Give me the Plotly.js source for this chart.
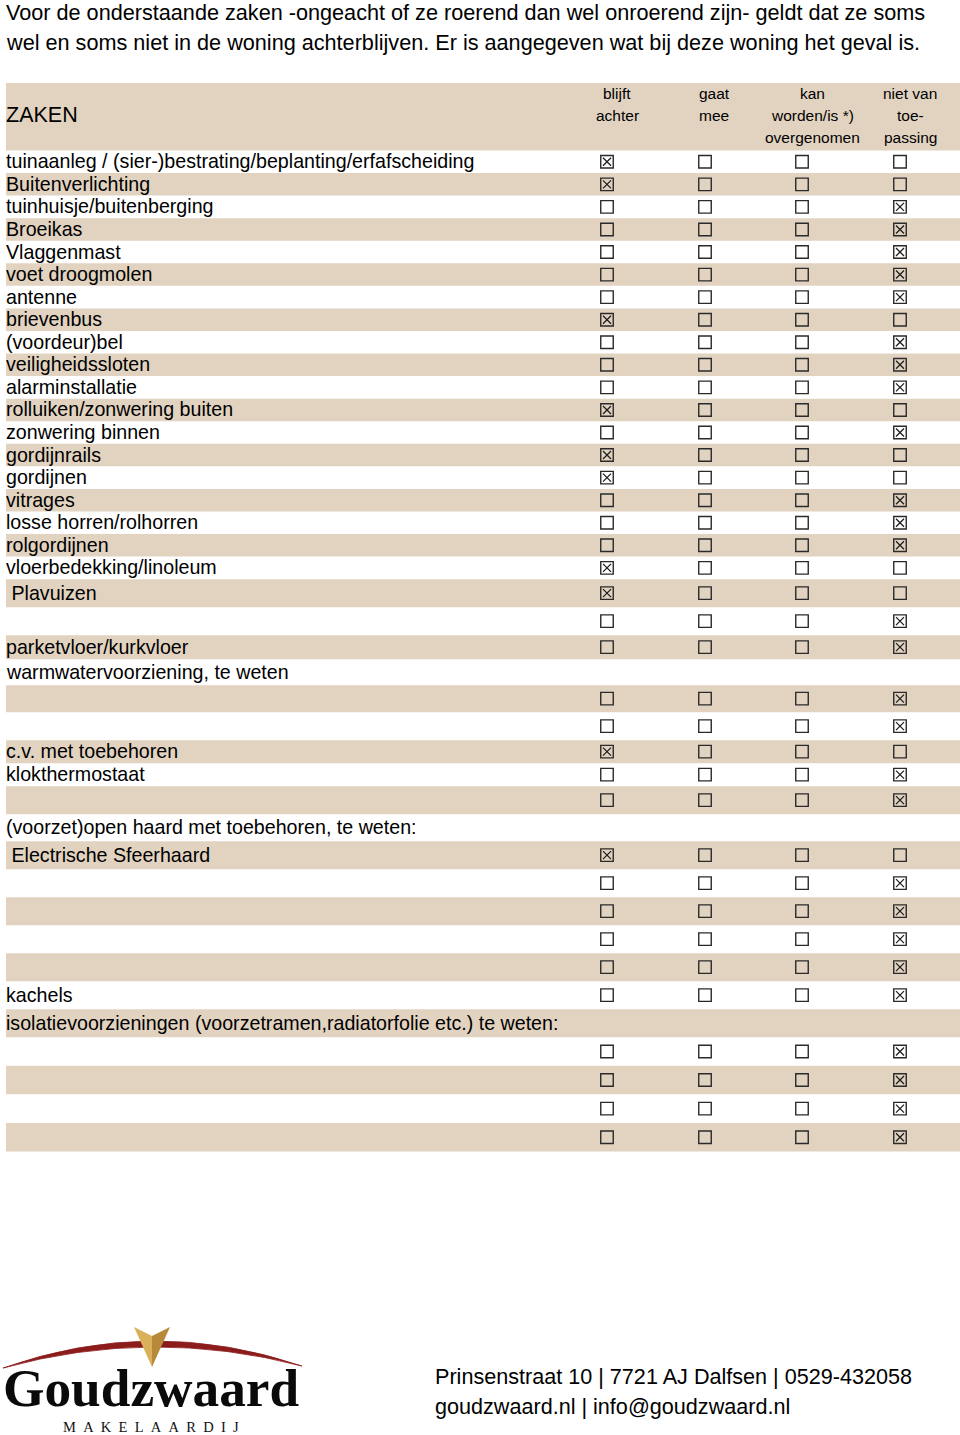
<!DOCTYPE html>
<html><head><meta charset="utf-8">
<script src="https://cdn.plot.ly/plotly-3.0.1.min.js"></script>
<style>html,body{margin:0;padding:0;background:#fff}#chart{width:960px;height:1435px}</style>
</head><body><div id="chart"></div>
<script>
// ---------- DATA ----------
const introLines = [
  "Voor de onderstaande zaken -ongeacht of ze roerend dan wel onroerend zijn- geldt dat ze soms",
  "wel en soms niet in de woning achterblijven. Er is aangegeven wat bij deze woning het geval is."
];
const tableTitle = "ZAKEN";
const columnHeaders = [
  ["blijft", "achter"],
  ["gaat", "mee"],
  ["kan", "worden/is *)", "overgenomen"],
  ["niet van", "toe-", "passing"]
];
const itemLabels = [
  "tuinaanleg / (sier-)bestrating/beplanting/erfafscheiding",
  "Buitenverlichting",
  "tuinhuisje/buitenberging",
  "Broeikas",
  "Vlaggenmast",
  "voet droogmolen",
  "antenne",
  "brievenbus",
  "(voordeur)bel",
  "veiligheidssloten",
  "alarminstallatie",
  "rolluiken/zonwering buiten",
  "zonwering binnen",
  "gordijnrails",
  "gordijnen",
  "vitrages",
  "losse horren/rolhorren",
  "rolgordijnen",
  "vloerbedekking/linoleum",
  "\u00a0Plavuizen",
  "",
  "parketvloer/kurkvloer",
  "warmwatervoorziening, te weten",
  "",
  "",
  "c.v. met toebehoren",
  "klokthermostaat",
  "",
  "(voorzet)open haard met toebehoren, te weten:",
  "\u00a0Electrische Sfeerhaard",
  "",
  "",
  "",
  "",
  "kachels",
  "isolatievoorzieningen (voorzetramen,radiatorfolie etc.) te weten:",
  "",
  "",
  "",
  ""
];
// index of the ticked column (0 blijft achter, 1 gaat mee, 2 kan worden overgenomen, 3 niet van toepassing); null = no boxes
const checkedColumn = [
  0, 0, 3, 3, 3, 3, 3, 0, 3, 3,
  3, 0, 3, 0, 0, 3, 3, 3, 0, 0,
  3, 3, null, 3, 3, 0, 3, 3, null, 0,
  3, 3, 3, 3, 3, null, 3, 3, 3, 3
];
const footerLines = [
  "Prinsenstraat 10 | 7721 AJ Dalfsen | 0529-432058",
  "goudzwaard.nl | info@goudzwaard.nl"
];
const logoName = "Goudzwaard";
const logoSub = "MAKELAARDIJ";

// ---------- LAYOUT ----------
const W = 960, H = 1435;
const beige = "#e2d3c0";
const textFont = "Liberation Sans, Arial, sans-serif";
const tableLeft = 6, tableRight = 960;
const textLeft = 4;
const headerTop = 83, headerBottom = 150.5;
const rowHeights = [];
for (let i = 0; i < 19; i++) rowHeights.push(22.56);
rowHeights.push(28, 28, 24, 26, 27, 28, 23, 23, 28, 27, 28, 28, 28, 28, 28, 28, 28, 28.6, 28.6, 28.6, 28.6);
const colX = [607, 705, 802, 900];
const colHeadX = [617, 714, 812, 910];
const colHeadY = [93, 115, 137];

const shapes = [];
const annotations = [];
function addText(t, x, y, size, opts) {
  annotations.push(Object.assign({
    text: t, x: x, y: y, xref: "x", yref: "y", showarrow: false,
    xanchor: "left", yanchor: "middle",
    font: {family: textFont, size: size, color: "#000"}
  }, opts || {}));
}

// intro
introLines.forEach((t, i) => addText(t, textLeft, 12 + i * 30.5, 21.65));

// header band
shapes.push({type: "rect", xref: "x", yref: "y", x0: tableLeft, x1: tableRight, y0: headerTop, y1: headerBottom,
  fillcolor: beige, line: {width: 0}, layer: "below"});
addText(tableTitle, textLeft, 115, 21.5);
columnHeaders.forEach((lines, c) => lines.forEach((t, j) =>
  addText(t, colHeadX[c], colHeadY[j], 15.5, {xanchor: "center"})));

// rows
const rowCenters = [];
let yTop = headerBottom;
itemLabels.forEach((lab, i) => {
  const h = rowHeights[i];
  if (i % 2 === 1) {
    shapes.push({type: "rect", xref: "x", yref: "y", x0: tableLeft, x1: tableRight, y0: yTop, y1: yTop + h,
      fillcolor: beige, line: {width: 0}, layer: "below"});
  }
  const yc = yTop + h / 2;
  rowCenters.push(yc);
  if (lab) addText(lab, textLeft, yc - 0.5, 19.65);
  yTop += h;
});

// checkboxes
const boxX = [], boxY = [], tickX = [], tickY = [];
checkedColumn.forEach((c, i) => {
  if (c === null) return;
  colX.forEach((x, k) => {
    boxX.push(x); boxY.push(rowCenters[i]);
    if (k === c) { tickX.push(x); tickY.push(rowCenters[i]); }
  });
});
const traces = [
  {type: "scatter", mode: "markers", x: boxX, y: boxY, hoverinfo: "skip",
    marker: {symbol: "square-open", size: 12.5, color: "#2a2a2a", line: {width: 1.4, color: "#2a2a2a"}}},
  {type: "scatter", mode: "markers", x: tickX, y: tickY, hoverinfo: "skip",
    marker: {symbol: "x-thin-open", size: 8, color: "#1e1e1e", line: {width: 1.3, color: "#1e1e1e"}}}
];

// logo
shapes.push({type: "path", xref: "x", yref: "y",
  path: "M 3 1368 Q 152 1315 302 1366 Q 152 1327 3 1368 Z",
  fillcolor: "#8c1c1c", line: {color: "#8c1c1c", width: 0.8}});
shapes.push({type: "path", xref: "x", yref: "y",
  path: "M 134 1327 L 152 1336 L 152 1367 Z", fillcolor: "#d9b15a", line: {width: 0}});
shapes.push({type: "path", xref: "x", yref: "y",
  path: "M 152 1336 L 170 1327 L 152 1367 Z", fillcolor: "#b8893a", line: {width: 0}});
addText("<b>" + logoName + "</b>", 1, 1388, 53.3, {font: {family: "Liberation Serif, Times New Roman, serif", size: 53.3, color: "#0a0a0a"}});
addText(logoSub.split("").join("\u2002"), 61, 1427, 14.5, {font: {family: "Liberation Serif, Times New Roman, serif", size: 14.5, color: "#111"}});

// footer
footerLines.forEach((t, i) => addText(t, 433, 1376 + i * 30.5, 21.6));

const layout = {
  width: W, height: H, margin: {l: 0, r: 0, t: 0, b: 0},
  paper_bgcolor: "#fff", plot_bgcolor: "#fff", showlegend: false,
  xaxis: {range: [0, W], visible: false, fixedrange: true},
  yaxis: {range: [H, 0], visible: false, fixedrange: true},
  shapes: shapes, annotations: annotations
};
Plotly.newPlot("chart", traces, layout, {displayModeBar: false, staticPlot: true});
</script></body></html>
